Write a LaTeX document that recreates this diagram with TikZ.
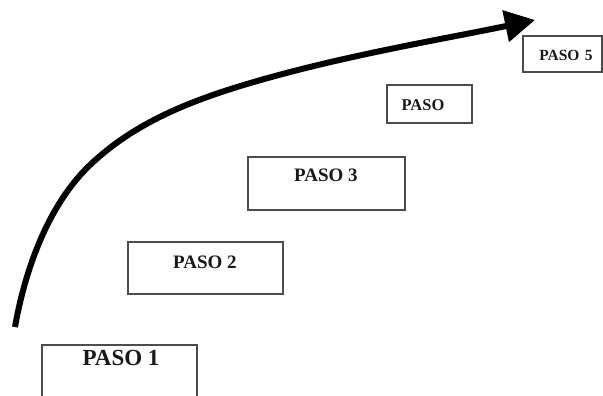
\documentclass[tikz,border=0pt]{standalone}
\usepackage{fontspec}
\setmainfont{Liberation Serif}
\usetikzlibrary{arrows.meta}
\tikzset{
  pasobox/.style={draw=black!70, line width=1.3pt, rectangle, inner sep=0pt},
  pasotext/.style={font=\bfseries, text=black!90, inner sep=0pt},
  bigarrow/.style={line width=6pt, -{Triangle[length=30pt, width=31pt]}}
}
\begin{document}
\begin{tikzpicture}[x=1pt, y=-1pt]
\useasboundingbox (0,0) rectangle (603,396);
\clip (0,0) rectangle (603,396);
% boxes
\node[pasobox, minimum width=155pt, minimum height=56pt] (b1) at (119.5,373) {};
\node[pasotext, font=\bfseries\fontsize{23}{23}\selectfont] (t1) at (121,358) {PASO 1};
\node[pasobox, minimum width=155pt, minimum height=52pt] (b2) at (205.5,268) {};
\node[pasotext, font=\bfseries\fontsize{19}{19}\selectfont] (t2) at (205,262) {PASO 2};
\node[pasobox, minimum width=157pt, minimum height=53pt] (b3) at (326.5,183.5) {};
\node[pasotext, font=\bfseries\fontsize{19}{19}\selectfont] (t3) at (326,175) {PASO 3};
\node[pasobox, minimum width=85pt, minimum height=38pt] (b4) at (429.5,104) {};
\node[pasotext, font=\bfseries\fontsize{16.5}{16.5}\selectfont] (t4) at (423,105) {PASO};
\node[pasobox, minimum width=79pt, minimum height=36pt] (b5) at (562.5,54) {};
\node[pasotext, font=\bfseries\fontsize{15.5}{15.5}\selectfont] (t5) at (566,55) {PASO\hspace{0.35em}5};
% arrow
\coordinate (s) at (15,327);
\coordinate (m1) at (90,165);
\coordinate (m2) at (247,84);
\coordinate (e) at (535,20);
\draw[bigarrow] (s) .. controls (25,270) and (48,205) .. (m1)
  .. controls (135,122) and (192,100.5) .. (m2)
  .. controls (341,56) and (439,40) .. (e);
\end{tikzpicture}
\end{document}
